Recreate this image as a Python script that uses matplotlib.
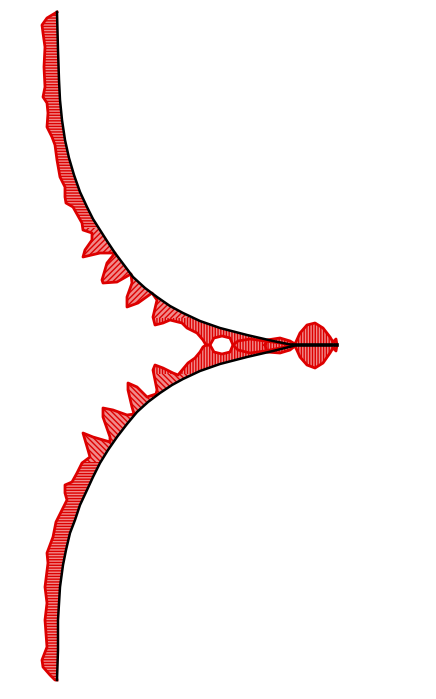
import numpy as np
import matplotlib.pyplot as plt
from matplotlib.patches import Polygon, Rectangle

# pixel coordinates (y grows downward)
upper_x = [57, 58, 59, 60, 62, 65, 69, 74, 80, 87, 93, 100, 107, 115, 124, 133, 145, 157, 170,
           183, 200, 220, 247, 273, 293]
upper_y = [12, 50, 80, 100, 120, 140, 158, 175, 192, 207, 219, 230, 241, 253, 265, 277, 288, 297,
           306, 313, 321, 328, 335, 341, 345]

upper_comb_x = [57, 47, 42, 43, 45, 44, 45, 43, 47, 48, 47, 52, 55, 57, 60, 65, 65, 66, 73, 82,
                83, 92, 92, 85, 83, 100, 115, 107, 102, 103, 117, 131, 132, 127, 127, 138, 152,
                157, 153, 155, 163, 170, 178, 182, 187, 197, 203, 206, 210, 214, 222, 230, 233,
                238, 250, 265, 280, 293]
upper_comb_y = [12, 18, 25, 33, 47, 67, 87, 97, 103, 113, 127, 137, 145, 160, 177, 187, 197, 203,
                207, 223, 230, 233, 240, 250, 257, 253, 253, 263, 280, 283, 282, 274, 283, 297,
                307, 303, 293, 300, 317, 325, 323, 320, 322, 323, 328, 333, 340, 345, 345, 338,
                336, 338, 345, 350, 353, 351, 348, 345]

lower_x = [57, 58, 58, 60, 63, 66, 70, 75, 80, 87, 93, 100, 108, 117, 127, 137, 148, 160, 172,
           183, 200, 220, 247, 273, 293]
lower_y = [680, 650, 620, 587, 565, 550, 533, 520, 505, 490, 477, 463, 450, 437, 424, 412, 402,
           393, 385, 379, 371, 364, 357, 351, 346]

lower_comb_x = [57, 55, 50, 43, 42, 47, 45, 47, 45, 48, 47, 53, 56, 62, 67, 65, 65, 72, 77, 82,
                90, 88, 83, 93, 110, 110, 103, 103, 113, 127, 134, 132, 128, 128, 137, 147, 156,
                157, 153, 155, 163, 173, 178, 183, 188, 195, 200, 203, 206, 210, 214, 222, 230,
                233, 238, 250, 265, 280, 293]
lower_comb_y = [680, 680, 675, 667, 660, 647, 620, 603, 587, 563, 553, 537, 522, 510, 500, 493,
                485, 482, 473, 463, 457, 450, 433, 437, 442, 437, 417, 408, 410, 415, 414, 407,
                390, 383, 387, 397, 394, 390, 370, 365, 368, 373, 375, 369, 363, 358, 352, 347,
                345, 345, 352, 354, 352, 345, 341, 339, 341, 343, 346]

line_x = [293, 337]
line_y = [345, 345]

line_comb_x = [265, 267, 280, 290, 295, 300, 307, 315, 323, 330, 333, 336, 337,
               336, 333, 330, 323, 315, 307, 300, 295, 290, 280, 267]
line_comb_y = [345, 340, 338, 341, 344, 333, 325, 323, 328, 337, 342, 339, 345,
               351, 348, 353, 363, 368, 365, 357, 346, 350, 353, 352]

plt.rcParams['hatch.linewidth'] = 1.0

fig = plt.figure(figsize=(4.36, 6.99), dpi=100)
ax = fig.add_axes([0, 0, 1, 1])
ax.set_xlim(0, 436)
ax.set_ylim(699, 0)
ax.axis('off')

red = '#dd0000'
# comb lines run roughly normal to the curve, so the hatch changes by band
bands = [(0, 228, '------'), (228, 318, '//////'), (318, 374, '||||||'),
         (374, 462, '\\\\\\\\\\\\'), (462, 699, '------')]


def draw_comb(xs, ys, bands_list):
    pts = np.column_stack([xs, ys])
    for y0, y1, h in bands_list:
        p = Polygon(pts, closed=True, facecolor='#f08a8a', edgecolor=red, lw=0, hatch=h)
        ax.add_patch(p)
        p.set_clip_path(Rectangle((0, y0), 436, y1 - y0, transform=ax.transData))


for cx, cy, tx, ty in [(upper_x, upper_y, upper_comb_x, upper_comb_y),
                       (lower_x, lower_y, lower_comb_x, lower_comb_y)]:
    draw_comb(list(tx) + list(cx[::-1]), list(ty) + list(cy[::-1]), bands)
    ax.plot(tx, ty, color=red, lw=2.0, solid_joinstyle='round')

draw_comb(line_comb_x, line_comb_y, [(0, 699, '||||||')])
ax.plot(line_comb_x + line_comb_x[:1], line_comb_y + line_comb_y[:1], color=red, lw=2.0)

ax.plot(upper_x, upper_y, color='black', lw=1.8)
ax.plot(lower_x, lower_y, color='black', lw=1.8)
ax.plot(line_x, line_y, color='black', lw=2.6)

fig.savefig('out.png', dpi=100)
